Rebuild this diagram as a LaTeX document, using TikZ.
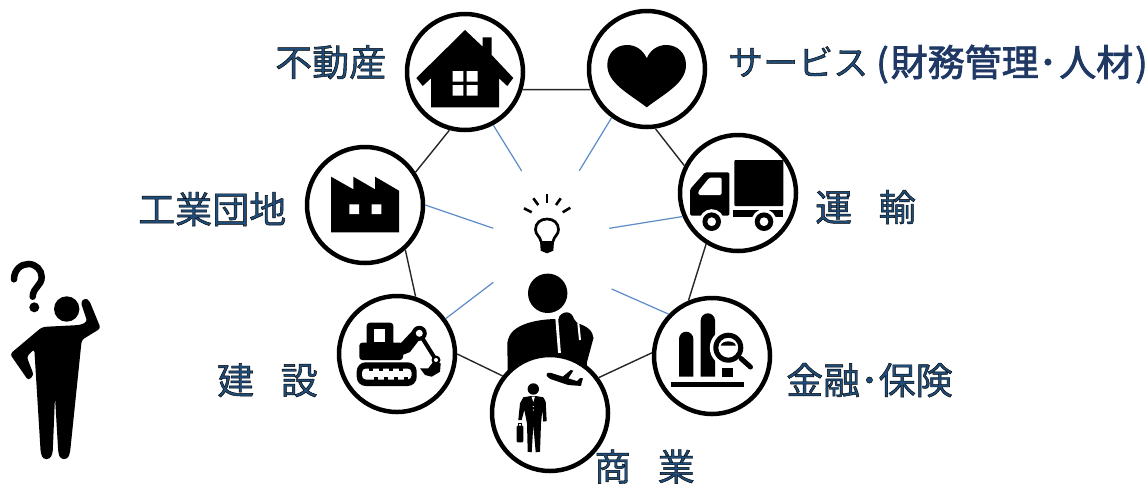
\documentclass[tikz,border=0pt]{standalone}
\usepackage{fontspec}
\newfontfamily\cjkbold[FakeBold=2.2]{Noto Sans CJK JP}
\newfontfamily\cjkedge[FakeBold=1.2]{Noto Sans CJK JP}
\usepackage{xcolor}
\usepackage{tikz}
\definecolor{labeldark}{HTML}{1F3864}
\definecolor{spokeblue}{HTML}{5B8BC8}
\definecolor{linkgrey}{HTML}{262626}
% blue letters with a thin black edge
\newcommand{\edged}[1]{\special{pdf:bcolor [0.12 0.30 0.47] [0 0 0]}{\cjkedge #1}\special{pdf:ecolor}}
\newcommand{\widegap}{　\hspace{-10.5pt}}
\tikzset{
  disc/.style={circle, draw=black, fill=white, line width=4.5pt, minimum size=116pt, inner sep=0pt},
  link/.style={draw=linkgrey, line width=1.4pt},
  spoke/.style={draw=spokeblue, line width=1.2pt},
  sector/.style={inner sep=0pt, font=\fontsize{37}{37}\selectfont, text height=32.6pt, text depth=4.4pt},
  ray/.style={draw=black, line width=2.6pt},
}
\begin{document}
\begin{tikzpicture}[x=1pt, y=-1pt]
        \useasboundingbox (0,0) rectangle (1148,485);

        % Thinking person behind the discs
        \fill (547.7,293.3) circle (19.7);
        \fill (508,390) -- (507.3,343) .. controls (509,332) and (516,327) .. (528,323) .. controls (538,320) and (548,319) .. (558.5,319)
          .. controls (559,315) and (563,312.3) .. (566.7,312.3) .. controls (570,312.3) and (573,315) .. (574,319) -- (577.5,323.3)
          .. controls (587,326) and (593,331) .. (593.5,338) -- (587,362) -- (585,390) -- cycle;
        \draw[white, line width=2.8pt] (556.7,318) -- (559.5,353);
        \draw[white, line width=2pt] (578.3,323.3) -- (580,340);

        % Discs around the person
        \node[disc] (house) at (465,72) {};
        \node[disc] (heart) at (647,69) {};
        \node[disc] (truck) at (738,193) {};
        \node[disc] (factory) at (365,205) {};
        \node[disc] (digger) at (397,354) {};
        \node[disc] (trader) at (550,413) {};
        \node[disc] (finance) at (712,356) {};

        % Ring of links
        \draw[link] (house.-17) -- (heart.200);
        \draw[link] (heart.-82) -- (truck.153);
        \draw[link] (truck.238) -- (finance.113);
        \draw[link] (finance.177) -- (trader.36);
        \draw[link] (trader.142) -- (digger.0);
        \draw[link] (digger.72) -- (factory.-48);
        \draw[link] (factory.33) -- (house.255);

        % Spokes towards the middle
        \coordinate (hubhouse) at (521.7,171);
        \coordinate (hubheart) at (579.3,170.7);
        \coordinate (hubtruck) at (609.3,228.3);
        \coordinate (hubfinance) at (611.7,289);
        \coordinate (hubdigger) at (493.3,282.3);
        \coordinate (hubfactory) at (493.3,228.3);
        \draw[spoke] (house.-62) -- (hubhouse);
        \draw[spoke] (heart.234) -- (hubheart);
        \draw[spoke] (truck.203) -- (hubtruck);
        \draw[spoke] (finance.136) -- (hubfinance);
        \draw[spoke] (digger.36) -- (hubdigger);
        \draw[spoke] (factory.0) -- (hubfactory);

        % Bulb
        \draw[ray] (547,194.3) -- (547,202.7);
        \draw[ray] (533.3,198.3) -- (538.3,205);
        \draw[ray] (560.7,198.3) -- (556,205);
        \draw[ray] (524,208.3) -- (531.7,212.3);
        \draw[ray] (570.3,207.7) -- (562.7,212.3);
        \draw[black, line width=2.7pt] (541,241.5) .. controls (540,236) and (535.5,235) .. (535.5,229.5) .. controls (535.5,223) and (540.5,219) .. (547,219)
          .. controls (553.5,219) and (558.5,223) .. (558.5,229.5) .. controls (558.5,235) and (554,236) .. (553,241.5);
        \fill (540,241) -- (554,241) -- (553.3,250.7) -- (547,253.3) -- (540.7,250.7) -- cycle;

        % House
        \fill (465,30) -- (482.7,46.7) -- (482.7,37.3) -- (491.7,37.3) -- (491.7,55) -- (513.3,78) -- (507.3,86) -- (499,78.3) -- (499,107.3) -- (431,107.3) -- (431,78.3) -- (422.7,86) -- (416.3,78) -- cycle;
        \fill[white] (452.7,71) rectangle (463.3,81.7) (466.7,71) rectangle (477.7,81.7) (452.7,85) rectangle (463.3,95.7) (466.7,85) rectangle (477.7,95.7);

        % Heart
        \fill (646.7,107.3) .. controls (628,93) and (607.3,83) .. (607.3,65) .. controls (607.3,53) and (616,45) .. (627,45) .. controls (636,45) and (643,50) .. (646.7,58.3)
          .. controls (650.4,50) and (657.4,45) .. (666.4,45) .. controls (677.4,45) and (686,53) .. (686,65) .. controls (686,83) and (665.4,93) .. (646.7,107.3) -- cycle;

        % Truck
        \fill[rounded corners=1pt] (734.3,160) rectangle (783.3,206);
        \fill[rounded corners=1.5pt] (729.3,172.3) -- (705,172.3) -- (690,189.3) -- (690,215.7) -- (729.3,215.7) -- cycle;
        \fill (733.3,210) rectangle (783.3,216.7);
        \fill[white, rounded corners=1.5pt] (721.7,177.7) -- (709.3,177.7) -- (698.3,191.5) -- (698.3,195) -- (721.7,195) -- cycle;
        \fill[white] (711.7,221.7) circle (12.5) (764,221.7) circle (12.5);
        \fill[even odd rule] (711.7,221.7) circle (9.3) (711.7,221.7) circle (4.5);
        \fill[even odd rule] (764,221.7) circle (9.3) (764,221.7) circle (4.5);

        % Factory
        \fill (331,176.7) -- (353.3,189.3) -- (353.3,176.7) -- (375,189.3) -- (375,176.7) -- (399,190.7) -- (399,232.3) -- (331,232.3) -- cycle;
        \fill[white] (349.3,204.3) rectangle (359,214) (371.7,204.3) rectangle (381.3,214);

        % Digger
        \fill[rounded corners=3pt] (366.7,322.7) rectangle (393.3,348);
        \fill[white] (374,329.3) rectangle (384.7,341.7);
        \fill[rounded corners=3pt] (359.3,342.7) rectangle (403,360);
        \fill (400,344) -- (415,328) -- (423,335) -- (410,352) -- (400,356) -- cycle;
        \draw[line width=4pt] (419.3,333.3) -- (436,360);
        \fill (419.3,333.3) circle (7.5) (436,360) circle (4.5);
        \fill[white] (419.3,333.3) circle (3.5) (436,360) circle (2);
        \fill (420,368.3) -- (425,375) -- (431.7,376.7) -- (440,371.7) -- (440.7,363.3) -- (433.3,361.7) -- (428.3,368.3) -- cycle;
        \fill[rounded corners=9pt] (356.7,362.3) rectangle (416.7,386);
        \fill[white, rounded corners=4pt] (362,368.5) rectangle (411.5,379.5);
        \foreach \px in {369,379,389,399} {
          \fill (\px,368) rectangle ++(4,3);
          \fill (\px+5,380) rectangle ++(4,-3);
        }

        % Chart and lens
        \fill (679,376.7) -- (679,339) arc[start angle=180, end angle=360, x radius=7.15, y radius=7.3] -- (693.3,376.7) -- cycle;
        \fill (700.7,376.7) -- (700.7,320.5) arc[start angle=180, end angle=360, x radius=7.15, y radius=7.2] -- (715,376.7) -- cycle;
        \fill (721.7,368.3) rectangle (733.3,376.7);
        \fill (671,381.7) rectangle (744,387.3);
        \fill[white] (728.3,347.7) circle (18.5);
        \draw[line width=5pt, line cap=round] (741,358.5) -- (750.5,367);
        \fill[even odd rule] (728.3,347.7) circle (15) (728.3,347.7) circle (10);
        \fill (720.8,345.5) .. controls (722,340) and (734.6,340) .. (735.8,345.5) -- cycle;

        % Trader with plane
        \fill (533.3,389) circle (5.7);
        \fill (531,396) -- (523.3,397.3) -- (520,403.3) -- (518.3,420) -- (521.7,420) -- (524.3,410) -- (527,423.3) -- (527.7,451.7) -- (531.7,452.3) -- (533.3,425) -- (535.7,452.3) -- (540,451.7) -- (541,423.3) -- (542.3,410) -- (543.3,421.7) -- (546.7,421) -- (545.7,401.7) -- (543.3,397.3) -- (535.7,396) -- cycle;
        \fill[white] (531.5,396.5) -- (533.3,402) -- (535,396.5) -- cycle;
        \fill[white] (533.3,406.5) circle (0.7) (533.3,410) circle (0.7);
        \fill[rounded corners=1pt] (516.7,425.7) rectangle (523.3,442.3);
        \draw[line width=1pt] (518.5,426) -- (518.5,423.5) -- (521.5,423.5) -- (521.5,426);
        \fill[rounded corners=1.5pt] (545.7,374.3) -- (549,372.3) -- (580,382) -- (582,386) -- (568,385) -- (549,378.5) -- cycle;
        \fill (560,379) -- (570.7,370) -- (573.3,370.7) -- (566.7,381) -- cycle;
        \fill (576,382) -- (580,378) -- (583,378.3) -- (581,385) -- cycle;

        % Puzzled person on the left
        \fill (66.7,309) circle (12.7);
        \fill[rounded corners=3pt] (41.7,327.3) -- (10,354) -- (28.3,380.5) -- (33.8,375) -- (26.7,356.7) -- (34.3,349) -- (40.7,453) -- (43,459) -- (50,459) -- (52.7,453) -- (55,396.7) -- (58.3,453) -- (60.5,459) -- (67.5,459) -- (70,453) -- (81.7,340) -- (100.7,328.3) -- (89.3,300.5) -- (85,298) -- (80.7,302) -- (87.3,321.7) -- (80,325) -- (46.7,326.7) -- cycle;
        \draw[line width=6.5pt, line cap=round] (14,279.3) .. controls (14,270) and (21,264) .. (28.3,264) .. controls (36,264) and (41.7,270) .. (41.7,277) .. controls (41.7,286) and (33,287) .. (32.7,296.7);
        \fill (34.3,307.3) circle (5);

        % Sector names
        \node[sector, anchor=west] (labelhouse) at (275,62) {\edged{不動産}};
        \node[sector, anchor=west, font=\fontsize{35}{35}\selectfont, text height=30.8pt, text depth=4.2pt] (labelheart) at (728,62) {\edged{サービス}};
        \node[sector, anchor=west, text=labeldark] (labelheartnote) at (876,62) {\cjkbold(\hspace{2pt}財務管理･\hspace{2pt}人材\hspace{2pt})};
        \node[sector, anchor=west] (labelfactory) at (138,209) {\edged{工業団地}};
        \node[sector, anchor=west] (labeltruck) at (815,207) {\edged{運\widegap 輸}};
        \node[sector, anchor=west] (labeldigger) at (217,380) {\edged{建\widegap 設}};
        \node[sector, anchor=west] (labelfinance) at (786,380) {\edged{金融･保険}};
        \node[sector, anchor=west] (labeltrader) at (594,466.5) {\edged{商\widegap 業}};
    \end{tikzpicture}
\end{document}
